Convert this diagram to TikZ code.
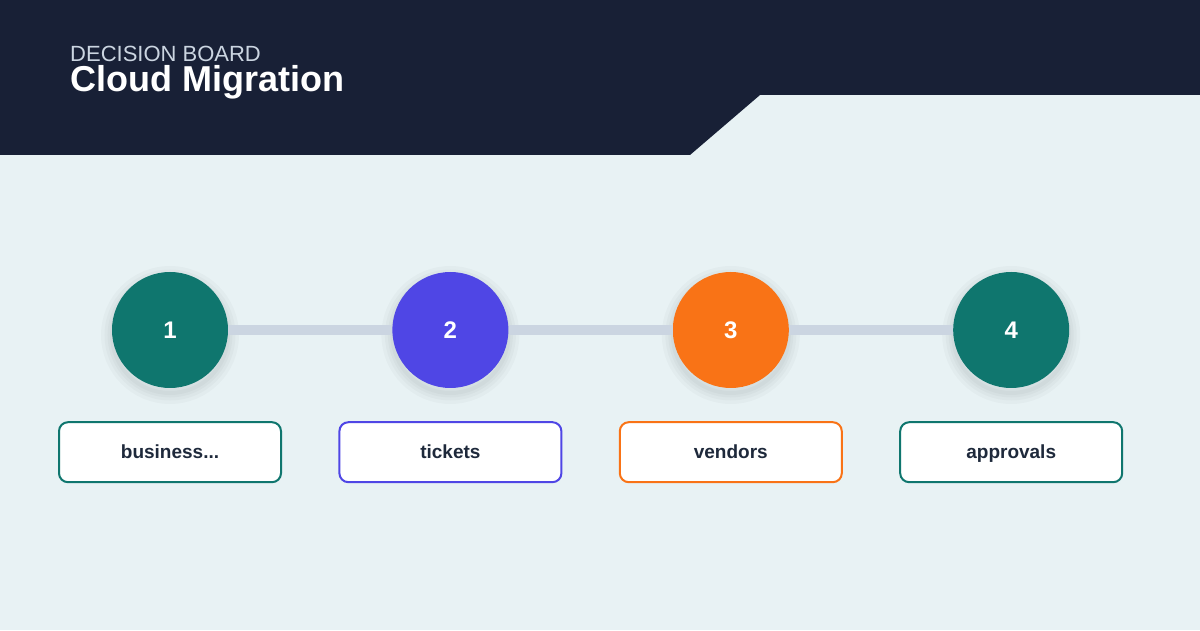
\documentclass[tikz,border=0pt]{standalone}
\usepackage{fontspec}
\setmainfont{Liberation Sans}
\usetikzlibrary{positioning}

\definecolor{boardbg}{HTML}{E8F2F4}
\definecolor{boardhead}{HTML}{182036}
\definecolor{boardsub}{HTML}{CBD5E1}
\definecolor{steptext}{HTML}{1E293B}
\definecolor{stepteal}{HTML}{0F766E}
\definecolor{stepindigo}{HTML}{4F46E5}
\definecolor{steporange}{HTML}{F97316}
\definecolor{steptrack}{HTML}{CBD5E1}

\begin{document}
\begin{tikzpicture}[
    x=1pt, y=1pt,
    node distance=164pt,
    soft ring/.style={preaction={draw=black,draw opacity=0.025,line width=#1,
      transform canvas={yshift=-5pt}}},
    step node/.style={circle,minimum size=116pt,inner sep=0pt,
      text=white,font=\fontsize{24}{28}\selectfont\bfseries,
      soft ring=22pt,soft ring=15pt,soft ring=9pt,soft ring=4pt},
    label node/.style={draw,line width=2pt,fill=white,rounded corners=9pt,
      minimum width=222pt,minimum height=60pt,inner sep=0pt,
      text height=16pt,text depth=4pt,
      text=steptext,font=\fontsize{19}{23}\selectfont\bfseries},
    track/.style={draw=steptrack,line width=10pt}]

  % canvas and header band
  \useasboundingbox (0,0) rectangle (1200,630);
  \fill[boardbg] (0,0) rectangle (1200,630);
  \fill[boardhead] (0,630) -- (1200,630) -- (1200,535) -- (760,535)
    -- (690,475) -- (0,475) -- cycle;

  \node[anchor=base west,text=boardsub,inner sep=0pt,
    font=\fontsize{22}{24}\selectfont] (kicker) at (70,568) {DECISION BOARD};
  \node[anchor=base west,text=white,inner sep=0pt,
    font=\fontsize{36}{40}\selectfont\bfseries] (title) at (70,538) {Cloud Migration};

  % steps
  \node[step node,fill=stepteal] (S1) at (170,300) {1};
  \node[step node,fill=stepindigo] (S2) [right=of S1] {2};
  \node[step node,fill=steporange] (S3) [right=of S2] {3};
  \node[step node,fill=stepteal] (S4) [right=of S3] {4};

  \path[track]
    (S1) edge (S2)
    (S2) edge (S3)
    (S3) edge (S4);

  \node[label node,draw=stepteal] (L1) [below=33pt of S1] {business...};
  \node[label node,draw=stepindigo] (L2) [below=33pt of S2] {tickets};
  \node[label node,draw=steporange] (L3) [below=33pt of S3] {vendors};
  \node[label node,draw=stepteal] (L4) [below=33pt of S4] {approvals};
\end{tikzpicture}
\end{document}
